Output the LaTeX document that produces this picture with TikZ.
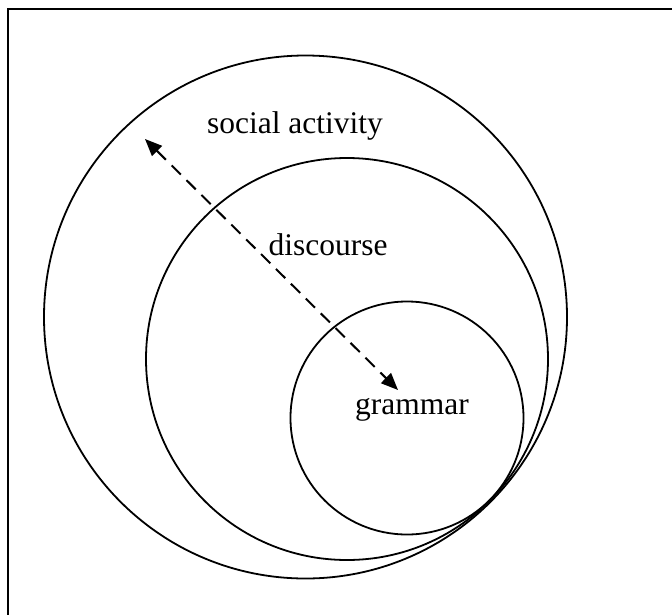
\documentclass[tikz,border=0pt]{standalone}
\usepackage{fontspec}
\setmainfont{Liberation Serif}
\usetikzlibrary{arrows.meta}
\tikzset{
  ring/.style={draw=black, line width=1.8pt, circle, minimum size=#1, inner sep=0pt},
  lbl/.style={font=\fontsize{31.5}{36}\selectfont, inner sep=0pt, anchor=base},
  frameline/.style={line width=2.6pt, line cap=rect},
  darrow/.style={line width=2pt, dash pattern=on 13pt off 8pt, {Triangle[length=17pt,width=14pt]}-{Triangle[length=17pt,width=14pt]}}
}
\begin{document}
\begin{tikzpicture}[x=1pt,y=-1pt]
\useasboundingbox (0,0) rectangle (672,614);
\coordinate (ftr) at (672,9);
\coordinate (ftl) at (8,9);
\coordinate (fbl) at (8,614);
\draw[frameline] (ftr) -- (ftl) -- (fbl);
\node[ring=523pt] (outer) at (305.5,317) {};
\node[ring=402pt] (disc) at (347,359) {};
\node[ring=233pt] (gram) at (407,418) {};
\node[lbl] (tsoc) at (295,133) {social activity};
\node[lbl] (tdisc) at (328,255) {discourse};
\node[lbl] (tgram) at (412,414) {grammar};
\coordinate (a1) at (145,139);
\coordinate (a2) at (398,390);
\draw[darrow] (a1) -- (a2);
\end{tikzpicture}
\end{document}
